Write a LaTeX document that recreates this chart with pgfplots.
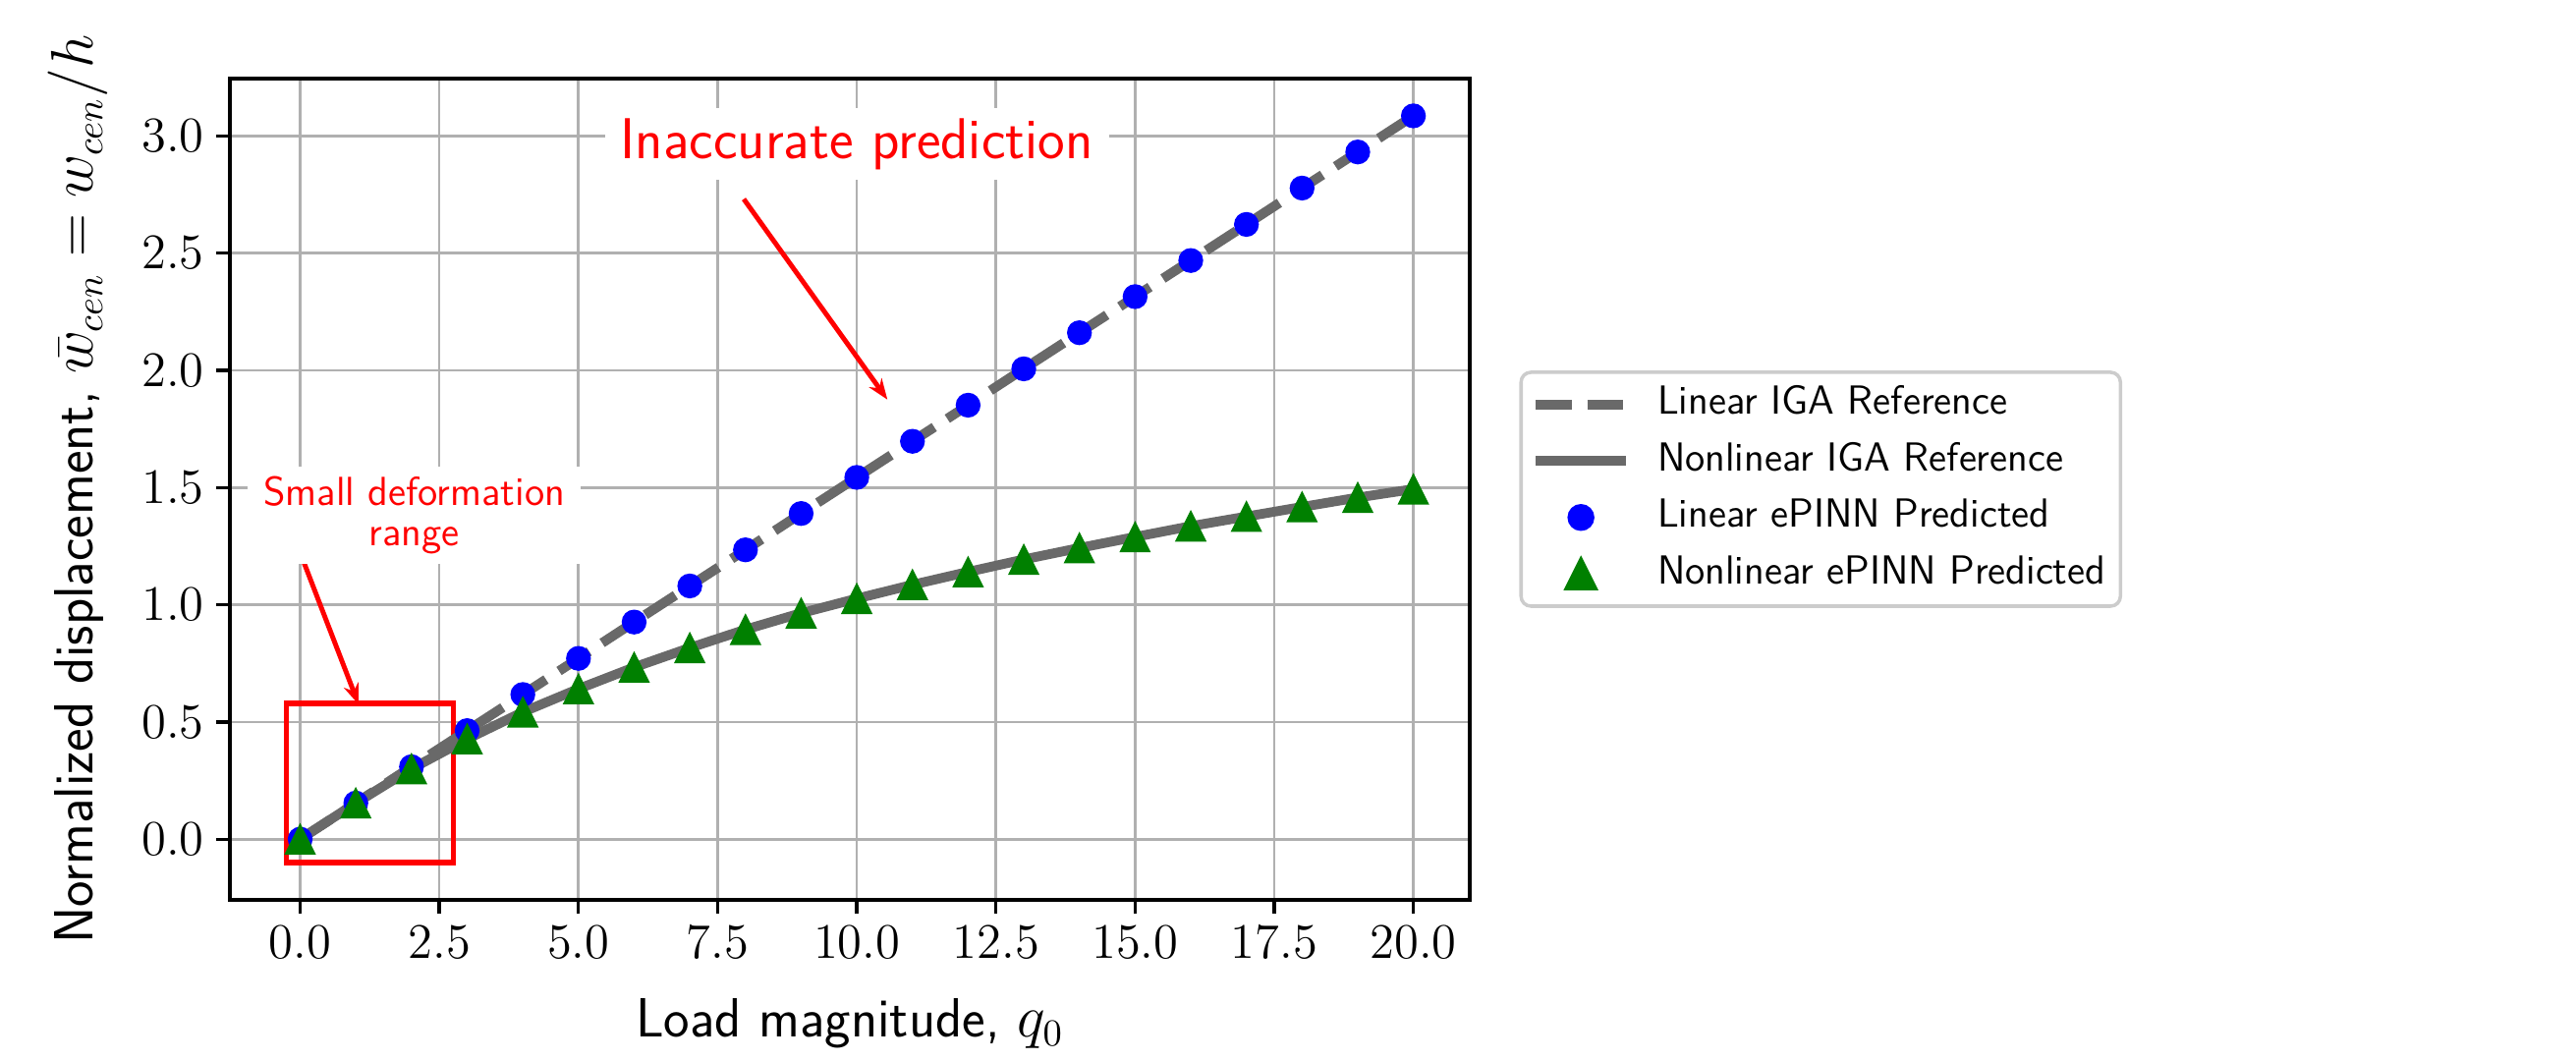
\documentclass[border=0pt]{standalone}
\usepackage{pgfplots}
\pgfplotsset{compat=1.18}
\usetikzlibrary{arrows.meta}

\definecolor{dimgray}{RGB}{105,105,105}
\definecolor{gridgray}{RGB}{176,176,176}
\definecolor{legendgray}{RGB}{204,204,204}
\definecolor{mplgreen}{RGB}{0,128,0}

% q0 vs normalized centre deflection
\pgfplotstableread{
q    lin     nonlin
0    0.000   0.000
1    0.154   0.154
2    0.309   0.300
3    0.463   0.427
4    0.617   0.542
5    0.771   0.641
6    0.926   0.733
7    1.080   0.816
8    1.234   0.894
9    1.389   0.964
10   1.543   1.026
11   1.697   1.085
12   1.851   1.140
13   2.006   1.193
14   2.160   1.242
15   2.314   1.289
16   2.468   1.335
17   2.622   1.376
18   2.777   1.417
19   2.931   1.457
20   3.085   1.493
}\data

\begin{document}
\begin{tikzpicture}
\useasboundingbox (-2.34cm,-1.64cm) rectangle (23.88cm,9.16cm);
\begin{axis}[
    at={(0,0)}, anchor=south west,
    scale only axis,
    width=12.62cm, height=8.36cm,
    xmin=-1.2625, xmax=21.0125,
    ymin=-0.259, ymax=3.244,
    xtick={0,2.5,...,20},
    ytick={0,0.5,...,3},
    xtick pos=left, ytick pos=left,
    tick align=outside,
    major tick length=0.14cm,
    major tick style={black, line width=0.95pt},
    axis line style={line width=0.95pt},
    grid=major,
    major grid style={gridgray, line width=0.75pt},
    xticklabel style={/pgf/number format/.cd, fixed, fixed zerofill, precision=1},
    yticklabel style={/pgf/number format/.cd, fixed, fixed zerofill, precision=1},
    tick label style={font=\fontsize{13.5}{16}\selectfont},
    label style={font=\sffamily\fontsize{16}{19}\selectfont},
    xlabel style={inner ysep=0pt},
    xlabel shift=0.29cm,
    ylabel shift=0.1cm,
    xlabel={Load magnitude, $q_0$},
    ylabel={Normalized displacement, $\bar{w}_{cen} = w_{cen}/h$},
    legend image code/.code={\draw[mark repeat=2,mark phase=2,#1] plot coordinates {(0cm,0cm) (0.46cm,0cm) (0.92cm,0cm)};},
    legend style={
        at={(1.04,0.5)}, anchor=west,
        draw=legendgray, line width=1pt, rounded corners=0.1cm,
        font=\sffamily\fontsize{11.75}{14}\selectfont,
        inner xsep=0.1cm, inner ysep=0.04cm,
        column sep=0.22cm,
        nodes={inner xsep=0.05cm, inner ysep=0.1cm, text height=0.29cm, text depth=0.085cm, anchor=west},
    },
    legend cell align=left,
]

\draw[red, line width=1.6pt] (axis cs:-0.25,-0.1) rectangle (axis cs:2.75,0.58);

\addplot[dimgray, line width=2.8pt, dash pattern=on 10.4pt off 4.5pt] table[x=q, y=lin] {\data};
\addlegendentry{Linear IGA Reference}
\addplot[dimgray, line width=2.8pt] table[x=q, y=nonlin] {\data};
\addlegendentry{Nonlinear IGA Reference}
\addplot[only marks, mark=*, mark size=3.4pt, blue, mark options={draw=blue, fill=blue}] table[x=q, y=lin] {\data};
\addlegendentry{Linear ePINN Predicted}
\addplot[only marks, mark=triangle*, mark size=4.92pt, mplgreen,
    mark options={draw=mplgreen, fill=mplgreen, yshift=-1.42pt, yscale=1.155}] table[x=q, y=nonlin] {\data};
\addlegendentry{Nonlinear ePINN Predicted}

\draw[red, line width=1.4pt, -{Stealth[length=6pt, width=4.5pt]}] (axis cs:7.97,2.73) -- (axis cs:10.55,1.875);
\draw[red, line width=1.4pt, -{Stealth[length=6pt, width=4.5pt]}] (axis cs:-0.03,1.24) -- (axis cs:1.05,0.575);

\node[fill=white, text=red, inner xsep=0.16cm, inner ysep=0.1cm, font=\sffamily\fontsize{16.7}{20}\selectfont]
    at (axis cs:10,2.965) {Inaccurate prediction};
\node[fill=white, text=red, align=center, inner xsep=0.16cm, inner ysep=0.1cm, font=\sffamily\fontsize{11.75}{11.6}\selectfont]
    at (axis cs:2.05,1.38) {Small deformation\\range};
\end{axis}
\end{tikzpicture}
\end{document}
